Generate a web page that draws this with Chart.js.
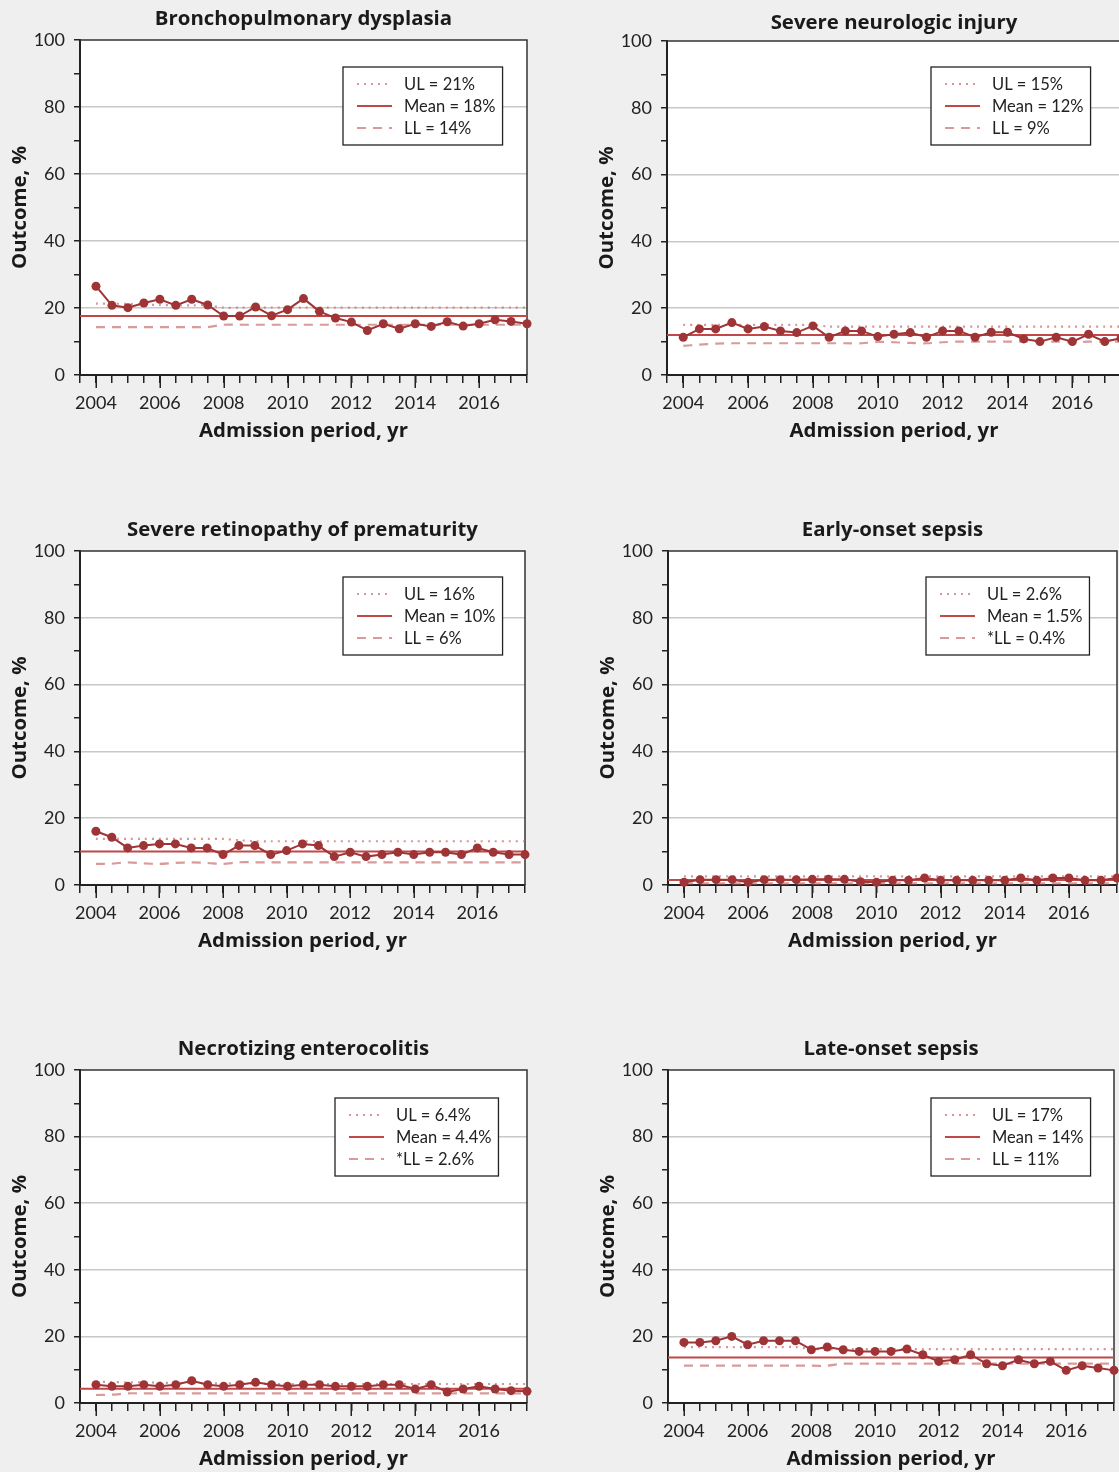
<!DOCTYPE html>
<html>
<head>
<meta charset="utf-8">
<script src="https://cdn.jsdelivr.net/npm/chart.js@4.4.1/dist/chart.umd.min.js"></script>
<style>
  html, body { margin: 0; padding: 0; background: #efefef; width: 1119px; height: 1472px; overflow: hidden; }
  canvas { position: absolute; }
</style>
</head>
<body>
<script>
// half-year admission periods
const periods = [2004, 2004.5, 2005, 2005.5, 2006, 2006.5, 2007, 2007.5, 2008, 2008.5,
  2009, 2009.5, 2010, 2010.5, 2011, 2011.5, 2012, 2012.5, 2013, 2013.5,
  2014, 2014.5, 2015, 2015.5, 2016, 2016.5, 2017, 2017.5];
const yTicks = [0, 20, 40, 60, 80, 100];

const titles = ['Bronchopulmonary dysplasia', 'Severe neurologic injury', 'Severe retinopathy of prematurity',
  'Early-onset sepsis', 'Necrotizing enterocolitis', 'Late-onset sepsis'];

// outcome, %
const bpdValues = [26.5, 20.8, 20.1, 21.5, 22.6, 20.8, 22.6, 20.9, 17.6, 17.6, 20.3, 17.7, 19.5, 22.8,
  19.0, 17.0, 15.8, 13.3, 15.3, 13.8, 15.3, 14.5, 15.9, 14.6, 15.3, 16.5, 16.0, 15.3];
const sniValues = [11.3, 13.8, 13.8, 15.7, 13.8, 14.5, 13.2, 12.7, 14.7, 11.3, 13.2, 13.2, 11.5, 12.2,
  12.7, 11.3, 13.2, 13.2, 11.3, 12.8, 12.8, 10.8, 10.0, 11.3, 10.0, 12.2, 10.0, 11.0];
const ropValues = [16.1, 14.3, 11.1, 11.8, 12.3, 12.3, 11.1, 11.1, 9.1, 11.8, 11.8, 9.1, 10.3, 12.3,
  11.8, 8.5, 9.8, 8.5, 9.1, 9.8, 9.1, 9.8, 9.8, 9.1, 11.1, 9.8, 9.1, 9.1];
const eosValues = [0.8, 1.6, 1.6, 1.6, 0.8, 1.6, 1.6, 1.6, 1.7, 1.7, 1.7, 1.0, 0.8, 1.4,
  1.4, 2.1, 1.4, 1.4, 1.4, 1.4, 1.4, 2.1, 1.4, 2.1, 2.1, 1.4, 1.4, 2.1];
const necValues = [5.5, 5.0, 5.0, 5.5, 5.0, 5.5, 6.7, 5.5, 5.0, 5.5, 6.2, 5.5, 5.0, 5.5,
  5.5, 5.0, 5.0, 5.0, 5.5, 5.5, 4.2, 5.5, 3.3, 4.2, 5.0, 4.2, 3.7, 3.5];
const losValues = [18.2, 18.2, 18.7, 20.0, 17.5, 18.7, 18.7, 18.7, 16.0, 16.8, 16.0, 15.5, 15.5, 15.5,
  16.2, 14.5, 12.5, 13.0, 14.5, 11.8, 11.2, 13.0, 11.8, 12.5, 9.8, 11.2, 10.5, 9.8];

// control limits (upper / lower) per period
const bpdUL = [21.3, 21.3, 21.2, 21.0, 20.9, 20.8, 20.8, 20.8, 20.1, 20.1, 20.1, 20.1, 20.1, 20.1,
  20.1, 20.1, 20.1, 20.1, 20.1, 20.1, 20.1, 20.1, 20.1, 20.1, 20.1, 20.1, 20.1, 20.1];
const bpdLL = [14.3, 14.3, 14.3, 14.3, 14.3, 14.3, 14.3, 14.3, 15.0, 15.0, 15.0, 15.0, 15.0, 15.0,
  15.0, 15.0, 15.0, 15.0, 15.0, 15.0, 15.0, 15.0, 15.0, 15.0, 15.0, 15.0, 15.0, 15.0];
const sniUL = [15.0, 15.0, 15.0, 15.0, 15.0, 15.0, 15.0, 15.0, 15.0, 14.5, 14.5, 14.5, 14.5, 14.5,
  14.5, 14.5, 14.5, 14.5, 14.5, 14.5, 14.5, 14.5, 14.5, 14.5, 14.5, 14.5, 14.5, 14.5];
const sniLL = [8.7, 9.1, 9.4, 9.5, 9.5, 9.5, 9.5, 9.5, 9.5, 9.5, 9.5, 9.5, 9.9, 9.8,
  9.6, 9.5, 9.8, 10.0, 10.0, 10.0, 10.0, 10.0, 10.0, 10.0, 9.8, 10.0, 10.0, 10.0];
const ropUL = [13.8, 13.8, 13.8, 13.8, 13.8, 13.8, 13.8, 13.8, 13.8, 13.4, 13.1, 13.1, 13.1, 13.1,
  13.1, 13.1, 13.1, 13.1, 13.1, 13.1, 13.1, 13.1, 13.1, 13.1, 13.1, 13.1, 13.1, 13.1];
const ropLL = [6.3, 6.4, 6.8, 6.5, 6.3, 6.6, 6.8, 6.6, 6.3, 6.8, 6.8, 6.8, 6.8, 6.8,
  6.8, 6.8, 6.8, 6.8, 6.8, 6.8, 6.8, 6.8, 6.8, 6.8, 6.8, 6.8, 6.8, 6.8];
const eosUL = [2.6, 2.6, 2.6, 2.6, 2.6, 2.6, 2.6, 2.6, 2.6, 2.6, 2.6, 2.6, 2.6, 2.6,
  2.6, 2.6, 2.6, 2.6, 2.6, 2.6, 2.6, 2.6, 2.6, 2.6, 2.6, 2.6, 2.6, 2.6];
const eosLL = [0.5, 0.5, 0.5, 0.5, 0.5, 0.5, 0.5, 0.5, 0.5, 0.5, 0.5, 0.5, 0.5, 0.5,
  0.5, 0.5, 0.5, 0.5, 0.5, 0.5, 0.5, 0.5, 0.5, 0.5, 0.5, 0.5, 0.5, 0.5];
const necUL = [6.4, 6.3, 6.2, 6.2, 6.1, 6.0, 6.0, 5.9, 5.9, 5.8, 5.8, 5.7, 5.7, 5.7,
  5.7, 5.7, 5.7, 5.7, 5.7, 5.7, 5.7, 5.7, 5.7, 5.7, 5.7, 5.7, 5.7, 5.7];
const necLL = [2.4, 2.5, 2.9, 2.9, 2.9, 2.9, 2.9, 2.9, 2.9, 2.9, 2.9, 2.9, 2.9, 2.9,
  2.9, 2.9, 2.9, 2.9, 2.9, 2.9, 2.9, 2.9, 2.9, 2.9, 2.9, 2.9, 2.9, 2.9];
const losUL = [16.8, 16.8, 16.8, 16.8, 16.8, 16.8, 16.8, 16.8, 16.2, 16.2, 16.2, 16.2, 16.2, 16.2,
  16.2, 16.2, 16.2, 16.2, 16.2, 16.2, 16.2, 16.2, 16.2, 16.2, 16.2, 16.2, 16.2, 16.2];
const losLL = [11.2, 11.2, 11.2, 11.2, 11.2, 11.2, 11.2, 11.2, 11.2, 11.2, 11.8, 11.8, 11.8, 11.8,
  11.8, 11.8, 11.8, 11.8, 11.8, 11.8, 11.8, 11.8, 11.8, 11.8, 11.8, 11.8, 11.8, 11.8];

const means = [17.6, 12.0, 10.0, 1.5, 4.3, 13.7];

const legendTexts = [
  ['UL = 21%', 'Mean = 18%', 'LL = 14%'],
  ['UL = 15%', 'Mean = 12%', 'LL = 9%'],
  ['UL = 16%', 'Mean = 10%', 'LL = 6%'],
  ['UL = 2.6%', 'Mean = 1.5%', '*LL = 0.4%'],
  ['UL = 6.4%', 'Mean = 4.4%', '*LL = 2.6%'],
  ['UL = 17%', 'Mean = 14%', 'LL = 11%']
];

const seriesValues = [bpdValues, sniValues, ropValues, eosValues, necValues, losValues];
const upperLimits = [bpdUL, sniUL, ropUL, eosUL, necUL, losUL];
const lowerLimits = [bpdLL, sniLL, ropLL, eosLL, necLL, losLL];

// page layout: plot area [left, top, right, bottom], title centre y, legend box top-left
const layouts = [
  { area: [80, 40, 527, 375], titleY: 17, legend: [343, 67] },
  { area: [667, 41, 1121, 375], titleY: 21, legend: [931, 67] },
  { area: [80, 551, 525, 885], titleY: 528, legend: [343, 577] },
  { area: [668, 551, 1117, 885], titleY: 528, legend: [926, 577] },
  { area: [80, 1070, 527, 1403], titleY: 1047, legend: [335, 1098] },
  { area: [668, 1070, 1114, 1403], titleY: 1047, legend: [931, 1098] }
];

const dataColor = '#9f3437';
const meanColor = '#c24848';
const ulColor = 'rgba(204, 112, 112, 0.75)';
const llColor = 'rgba(204, 120, 120, 0.75)';
const lineStyles = [
  { color: ulColor, dash: [2, 5], width: 2.2 },
  { color: meanColor, dash: [], width: 2 },
  { color: llColor, dash: [9, 7], width: 2.2 }
];
const boldFont = { family: '"Open Sans", Lato, sans-serif', size: 20.4, weight: 'bold' };

Chart.defaults.font.family = 'Lato, "Open Sans", sans-serif';
Chart.defaults.color = '#222';

// white plot area, frame on top/right, long ticks on even years
const framePlugin = {
  id: 'frame',
  beforeDraw(chart) {
    const a = chart.chartArea, ctx = chart.ctx;
    ctx.save();
    ctx.fillStyle = '#fff';
    ctx.fillRect(a.left, a.top, a.right - a.left, a.bottom - a.top);
    ctx.restore();
  },
  beforeDatasetsDraw(chart) {
    const a = chart.chartArea, ctx = chart.ctx;
    const xs = chart.scales.x;
    ctx.save();
    ctx.strokeStyle = '#333';
    ctx.lineWidth = 1.5;
    ctx.beginPath();
    ctx.moveTo(a.left, a.top);
    ctx.lineTo(a.right, a.top);
    ctx.lineTo(a.right, a.bottom);
    ctx.stroke();
    ctx.strokeStyle = '#222';
    ctx.beginPath();
    xs.ticks.forEach(t => {
      if (t.value % 2 === 0) {
        const px = Math.round(xs.getPixelForValue(t.value)) + 0.25;
        ctx.moveTo(px, a.bottom);
        ctx.lineTo(px, a.bottom + 13);
      }
    });
    ctx.stroke();
    ctx.restore();
  }
};

const boxLegend = {
  id: 'boxLegend',
  afterDraw(chart, args, opts) {
    const ctx = chart.ctx;
    ctx.save();
    ctx.font = '16.5px Lato, sans-serif';
    const w = 61 + Math.max(...opts.texts.map(t => ctx.measureText(t).width)) + 7;
    const x = opts.x, y = opts.y, h = 78;
    ctx.fillStyle = '#fff';
    ctx.fillRect(x, y, w, h);
    ctx.strokeStyle = '#222';
    ctx.lineWidth = 1.3;
    ctx.strokeRect(x, y, w, h);
    lineStyles.forEach((st, i) => {
      const cy = y + 17 + 22 * i;
      ctx.beginPath();
      ctx.setLineDash(st.dash);
      ctx.strokeStyle = st.color;
      ctx.lineWidth = st.width;
      ctx.moveTo(x + 14, cy);
      ctx.lineTo(x + 49, cy);
      ctx.stroke();
      ctx.setLineDash([]);
      ctx.fillStyle = '#222';
      ctx.textBaseline = 'middle';
      ctx.fillText(opts.texts[i], x + 61, cy + 1);
    });
    ctx.restore();
  }
};

layouts.forEach((lay, i) => {
  const [L, T, R, B] = lay.area;
  const cLeft = L - 80, cTop = T - 40;
  const padRight = 16;
  const canvas = document.createElement('canvas');
  canvas.width = R - cLeft + padRight;
  canvas.height = B - cTop + 70;
  canvas.style.left = cLeft + 'px';
  canvas.style.top = cTop + 'px';
  document.body.appendChild(canvas);

  const titleTop = lay.titleY - cTop - 10.5;
  const vals = seriesValues[i];

  new Chart(canvas, {
    type: 'line',
    data: {
      datasets: [
        {
          label: 'Outcome',
          data: periods.map((p, k) => ({ x: p, y: vals[k] })),
          borderColor: dataColor,
          backgroundColor: dataColor,
          borderWidth: 2,
          pointRadius: 4.5,
          pointBorderWidth: 0,
          tension: 0,
          clip: false,
          order: 0
        },
        {
          label: 'Mean',
          data: [{ x: 2003.5, y: means[i] }, { x: 2017.5, y: means[i] }],
          borderColor: meanColor,
          borderWidth: 2,
          pointRadius: 0,
          order: 1
        },
        {
          label: 'UL',
          data: periods.map((p, k) => ({ x: p, y: upperLimits[i][k] })),
          borderColor: ulColor,
          borderWidth: 2.2,
          borderDash: [2, 5],
          pointRadius: 0,
          tension: 0.3,
          order: 2
        },
        {
          label: 'LL',
          data: periods.map((p, k) => ({ x: p, y: lowerLimits[i][k] })),
          borderColor: llColor,
          borderWidth: 2.2,
          borderDash: [9, 7],
          pointRadius: 0,
          tension: 0.3,
          order: 3
        }
      ]
    },
    options: {
      responsive: false,
      devicePixelRatio: 1,
      animation: false,
      layout: { padding: { left: 0, right: padRight, top: 0, bottom: 0 } },
      plugins: {
        legend: { display: false },
        tooltip: { enabled: false },
        title: {
          display: true,
          text: titles[i],
          fullSize: false,
          font: boldFont,
          color: '#1a1a1a',
          padding: { top: titleTop, bottom: 40 - 24.48 - titleTop }
        },
        boxLegend: { x: lay.legend[0] - cLeft, y: lay.legend[1] - cTop, texts: legendTexts[i] }
      },
      scales: {
        x: {
          type: 'linear',
          min: 2003.5,
          max: 2017.5,
          afterFit(s) { s.height = 70; },
          afterBuildTicks(s) { s.ticks = periods.concat([2003.5]).sort((a, b) => a - b).map(v => ({ value: v })); },
          ticks: {
            autoSkip: false,
            maxRotation: 0,
            padding: 9,
            font: { size: 18 },
            color: '#222',
            callback: v => (v % 2 === 0 ? String(v) : '')
          },
          grid: { drawOnChartArea: false, tickLength: 8, tickColor: '#222', lineWidth: 1.5 },
          border: { color: '#222', width: 2 },
          title: {
            display: true,
            text: 'Admission period, yr',
            font: boldFont,
            color: '#1a1a1a',
            padding: { top: 0, bottom: 2 }
          }
        },
        y: {
          min: 0,
          max: 100,
          afterFit(s) { s.width = 80; },
          ticks: {
            stepSize: 10,
            padding: 9,
            font: { size: 18 },
            color: '#222',
            callback: v => (yTicks.includes(v) ? String(v) : '')
          },
          grid: {
            tickLength: 6,
            tickColor: '#222',
            lineWidth: 1.5,
            color: c => (c.tick && c.tick.value % 20 === 0 && c.tick.value > 0 && c.tick.value < 100 ? '#c8c8c8' : 'rgba(0,0,0,0)')
          },
          border: { color: '#222', width: 2 },
          title: {
            display: true,
            text: 'Outcome, %',
            font: boldFont,
            color: '#1a1a1a',
            padding: { top: 8, bottom: 0 }
          }
        }
      }
    },
    plugins: [framePlugin, boxLegend]
  });
});
</script>
</body>
</html>
